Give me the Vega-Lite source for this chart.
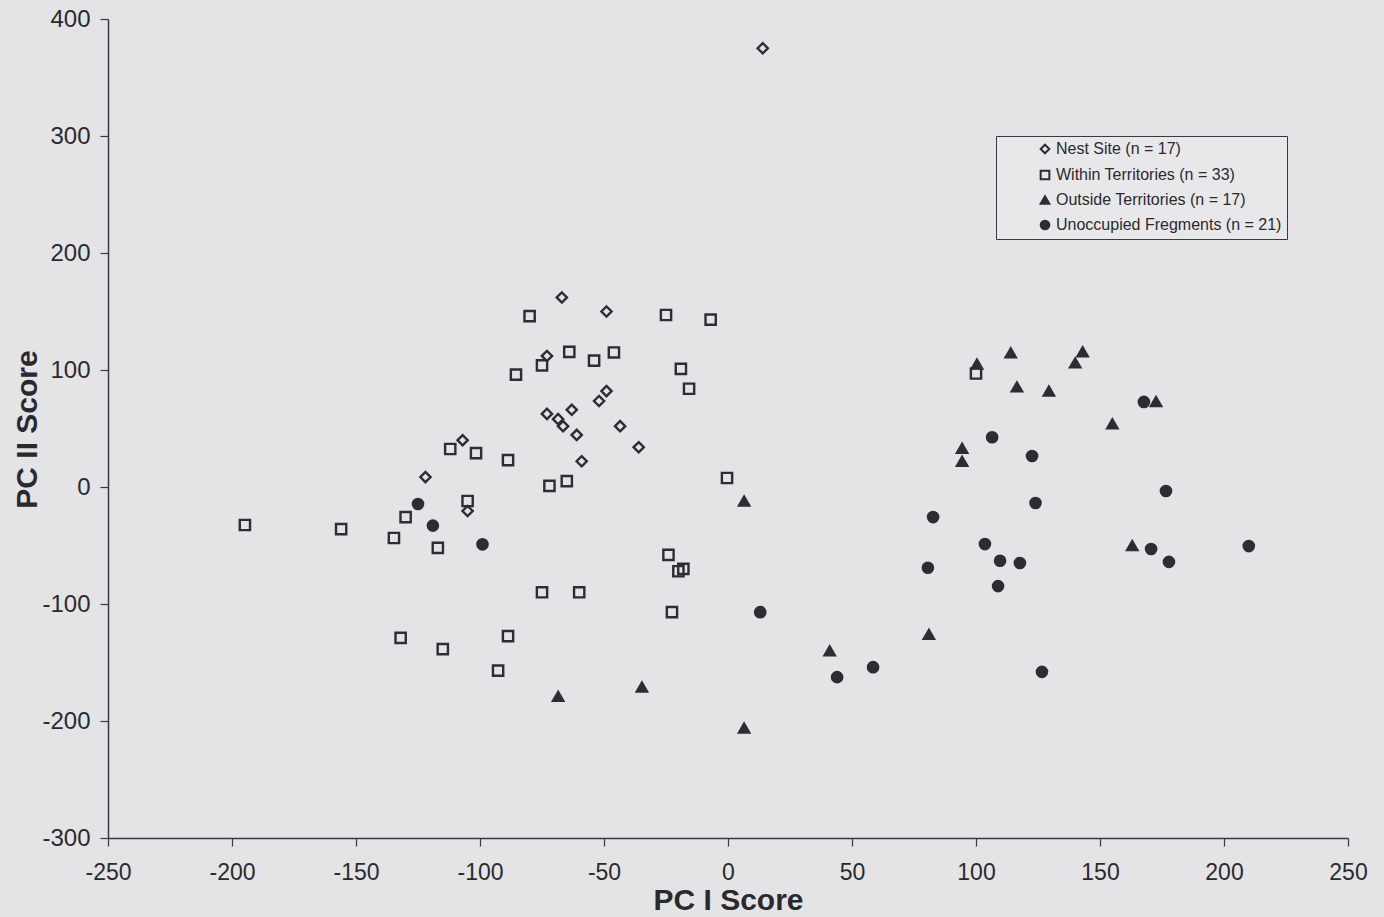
{
  "$schema": "https://vega.github.io/schema/vega-lite/v6.json",
  "width": 1240,
  "height": 819,
  "autosize": {"type": "none"},
  "padding": {"left": 108, "top": 19, "right": 36, "bottom": 79},
  "background": "#e4e4e6",
  "config": {
    "view": {"stroke": null},
    "font": "Liberation Sans",
    "axis": {"grid": false, "domainColor": "#3a3a3e", "domainWidth": 1.5, "tickColor": "#3a3a3e", "tickWidth": 1.2, "labelColor": "#2a2a2e", "titleColor": "#2a2a2e", "titleFont": "Liberation Sans", "titleFontWeight": "bold", "titleFontSize": 30, "labelFont": "Liberation Sans"}
  },
  "data": {
    "values": [
      {"g": "Nest Site", "x": 14, "y": 375},
      {"g": "Nest Site", "x": -67, "y": 162},
      {"g": "Nest Site", "x": -49, "y": 150},
      {"g": "Nest Site", "x": -73, "y": 112},
      {"g": "Nest Site", "x": -107, "y": 40},
      {"g": "Nest Site", "x": -122, "y": 8.5},
      {"g": "Nest Site", "x": -105, "y": -20.5},
      {"g": "Nest Site", "x": -49, "y": 82},
      {"g": "Nest Site", "x": -52, "y": 73.5},
      {"g": "Nest Site", "x": -63, "y": 66},
      {"g": "Nest Site", "x": -73, "y": 62.5},
      {"g": "Nest Site", "x": -68.5, "y": 58},
      {"g": "Nest Site", "x": -66.5, "y": 52},
      {"g": "Nest Site", "x": -61, "y": 44.5},
      {"g": "Nest Site", "x": -43.5, "y": 52},
      {"g": "Nest Site", "x": -36, "y": 34},
      {"g": "Nest Site", "x": -59, "y": 22},
      {"g": "Within", "x": -80, "y": 146},
      {"g": "Within", "x": -25, "y": 147},
      {"g": "Within", "x": -7, "y": 143},
      {"g": "Within", "x": -64, "y": 115.5},
      {"g": "Within", "x": -46, "y": 115},
      {"g": "Within", "x": -75, "y": 104},
      {"g": "Within", "x": -54, "y": 108},
      {"g": "Within", "x": -85.5, "y": 96},
      {"g": "Within", "x": -19, "y": 101},
      {"g": "Within", "x": -15.7, "y": 84},
      {"g": "Within", "x": -88.7, "y": 23},
      {"g": "Within", "x": -72, "y": 1},
      {"g": "Within", "x": -65, "y": 5},
      {"g": "Within", "x": -0.4, "y": 7.7},
      {"g": "Within", "x": -24, "y": -58},
      {"g": "Within", "x": -20, "y": -72},
      {"g": "Within", "x": -18, "y": -70},
      {"g": "Within", "x": -75, "y": -90},
      {"g": "Within", "x": -60, "y": -90},
      {"g": "Within", "x": -101.6, "y": 29},
      {"g": "Within", "x": -112, "y": 32.5},
      {"g": "Within", "x": -105, "y": -12},
      {"g": "Within", "x": -130, "y": -25.7},
      {"g": "Within", "x": -134.7, "y": -43.6},
      {"g": "Within", "x": -117, "y": -52},
      {"g": "Within", "x": -194.8, "y": -32.5},
      {"g": "Within", "x": -156, "y": -36},
      {"g": "Within", "x": -132, "y": -129},
      {"g": "Within", "x": -115, "y": -138.6},
      {"g": "Within", "x": -88.7, "y": -127.5},
      {"g": "Within", "x": -92.7, "y": -157},
      {"g": "Within", "x": -22.6, "y": -107},
      {"g": "Within", "x": 100, "y": 97},
      {"g": "Outside", "x": 114, "y": 114.6},
      {"g": "Outside", "x": 143, "y": 115.5},
      {"g": "Outside", "x": 140, "y": 106},
      {"g": "Outside", "x": 100.4, "y": 105},
      {"g": "Outside", "x": 116.5, "y": 85.5},
      {"g": "Outside", "x": 129.4, "y": 82},
      {"g": "Outside", "x": 94.4, "y": 33},
      {"g": "Outside", "x": 94.4, "y": 22},
      {"g": "Outside", "x": 81, "y": -126},
      {"g": "Outside", "x": 41, "y": -140},
      {"g": "Outside", "x": 155, "y": 54},
      {"g": "Outside", "x": 163, "y": -50},
      {"g": "Outside", "x": 172.6, "y": 73},
      {"g": "Outside", "x": 6.5, "y": -12},
      {"g": "Outside", "x": -68.5, "y": -179},
      {"g": "Outside", "x": -34.7, "y": -171},
      {"g": "Outside", "x": 6.5, "y": -206},
      {"g": "Unoccupied", "x": -125, "y": -14.5},
      {"g": "Unoccupied", "x": -119, "y": -33},
      {"g": "Unoccupied", "x": -99, "y": -49},
      {"g": "Unoccupied", "x": 13, "y": -107},
      {"g": "Unoccupied", "x": 106.5, "y": 42.5},
      {"g": "Unoccupied", "x": 122.6, "y": 26.5},
      {"g": "Unoccupied", "x": 124, "y": -13.7},
      {"g": "Unoccupied", "x": 82.7, "y": -25.7},
      {"g": "Unoccupied", "x": 103.6, "y": -48.8},
      {"g": "Unoccupied", "x": 109.7, "y": -63},
      {"g": "Unoccupied", "x": 117.7, "y": -65},
      {"g": "Unoccupied", "x": 80.6, "y": -69},
      {"g": "Unoccupied", "x": 108.9, "y": -84.7},
      {"g": "Unoccupied", "x": 44, "y": -162.5},
      {"g": "Unoccupied", "x": 58.5, "y": -154},
      {"g": "Unoccupied", "x": 126.6, "y": -158},
      {"g": "Unoccupied", "x": 167.7, "y": 72.7},
      {"g": "Unoccupied", "x": 176.6, "y": -3.4},
      {"g": "Unoccupied", "x": 170.6, "y": -53},
      {"g": "Unoccupied", "x": 177.8, "y": -64},
      {"g": "Unoccupied", "x": 210, "y": -50.5}
    ]
  },
  "mark": {"type": "point", "strokeWidth": 2.4, "opacity": 1, "size": 105},
  "encoding": {
    "x": {
      "field": "x", "type": "quantitative",
      "scale": {"domain": [-250, 250], "nice": false, "zero": false},
      "axis": {"values": [-250, -200, -150, -100, -50, 0, 50, 100, 150, 200, 250], "labelExpr": "toString(datum.value)", "title": "PC I Score", "labelFontSize": 23, "tickSize": 8, "labelPadding": 15, "titleY": 47, "labelFlush": false}
    },
    "y": {
      "field": "y", "type": "quantitative",
      "scale": {"domain": [-300, 400], "nice": false, "zero": false},
      "axis": {"values": [-300, -200, -100, 0, 100, 200, 300, 400], "labelExpr": "toString(datum.value)", "title": "PC II Score", "labelFontSize": 24, "tickSize": 8, "labelPadding": 10, "titleX": -66, "titleY": 410, "labelFlush": false}
    },
    "shape": {
      "field": "g", "type": "nominal",
      "scale": {"domain": ["Nest Site", "Within", "Outside", "Unoccupied"], "range": ["diamond", "square", "triangle-up", "circle"]},
      "legend": {
        "title": null, "orient": "none", "legendX": 888, "legendY": 117,
        "labelExpr": "{'Nest Site': 'Nest Site (n = 17)', 'Within': 'Within Territories (n = 33)', 'Outside': 'Outside Territories (n = 17)', 'Unoccupied': 'Unoccupied Fregments (n = 21)'}[datum.label]",
        "labelFontSize": 16, "labelColor": "#2a2a2e", "labelOffset": 3, "labelLimit": 400,
        "symbolSize": 75, "symbolStrokeWidth": 2, "symbolOffset": 36,
        "padding": 5, "rowPadding": 8,
        "strokeColor": "#3a3a3e", "fillColor": "#e8e8ea"
      }
    },
    "fill": {
      "field": "g", "type": "nominal",
      "scale": {"domain": ["Nest Site", "Within", "Outside", "Unoccupied"], "range": ["transparent", "transparent", "#2d2d33", "#2d2d33"]}
    },
    "stroke": {
      "field": "g", "type": "nominal",
      "scale": {"domain": ["Nest Site", "Within", "Outside", "Unoccupied"], "range": ["#2d2d33", "#2d2d33", "#2d2d33", "#2d2d33"]}
    }
  }
}
